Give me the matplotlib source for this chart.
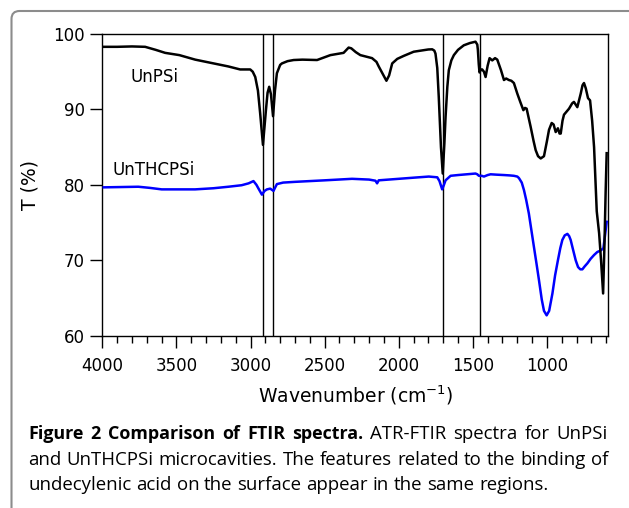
import matplotlib
matplotlib.use("Agg")
import matplotlib.pyplot as plt
from matplotlib.patches import FancyBboxPatch
from matplotlib.transforms import IdentityTransform
from matplotlib.ticker import MultipleLocator

plt.rcParams["font.family"] = ["DejaVu Sans"]
plt.rcParams["mathtext.fontset"] = "dejavusans"

# ---------------- data ----------------
unpsi_wn = [3990, 3900, 3800, 3711, 3640, 3576, 3480, 3373, 3250, 3150, 3070, 3002, 2985, 2968,
            2950, 2935, 2916, 2896, 2885, 2874, 2862, 2848, 2835, 2822, 2800, 2788, 2750, 2709,
            2650, 2551, 2461, 2400, 2372, 2338, 2320, 2290, 2259, 2220, 2180, 2150, 2135, 2110,
            2083, 2065, 2044, 2010, 1966, 1930, 1899, 1850, 1800, 1774, 1760, 1752, 1740, 1730,
            1715, 1703, 1692, 1684, 1672, 1662, 1645, 1628, 1600, 1561, 1520, 1482, 1470, 1466,
            1460, 1455, 1445, 1437, 1425, 1414, 1400, 1387, 1369, 1350, 1335, 1310, 1290, 1275,
            1257, 1240, 1223, 1200, 1180, 1159, 1148, 1137, 1110, 1090, 1076, 1060, 1042, 1020,
            1000, 986, 968, 955, 941, 926, 915, 907, 895, 885, 851, 830, 818, 805, 795, 772,
            760, 750, 738, 723, 709, 695, 682, 664, 648, 635, 621, 612, 604, 597]
unpsi_t = [98.3, 98.3, 98.35, 98.3, 97.9, 97.5, 97.2, 96.6, 96.1, 95.7, 95.3, 95.3, 95.0, 94.3,
           92.5, 89.5, 85.3, 89.9, 92.2, 93.0, 92.0, 89.1, 92.5, 94.8, 95.9, 96.1, 96.4, 96.55,
           96.6, 96.55, 97.2, 97.4, 97.5, 98.2, 98.1, 97.6, 97.2, 97.0, 96.8, 96.3, 95.7, 94.8,
           93.8, 94.5, 96.1, 96.7, 97.1, 97.4, 97.65, 97.8, 97.95, 97.97, 97.8, 97.4, 95.5, 91.7,
           85.0, 81.5, 85.5, 89.0, 93.0, 95.2, 96.5, 97.2, 97.9, 98.5, 98.8, 98.98, 98.6, 97.9,
           96.0, 94.9, 95.3, 95.3, 95.0, 94.3, 95.8, 96.8, 96.5, 96.8, 96.6, 95.2, 93.9, 94.1,
           93.9, 93.8, 93.5, 92.1, 91.0, 89.9, 90.2, 90.1, 87.7, 85.8, 84.6, 83.8, 83.5, 83.8,
           85.8, 87.3, 88.2, 88.0, 87.0, 87.5, 86.8, 86.8, 88.5, 89.3, 90.1, 90.8, 91.0, 90.6,
           90.3, 92.1, 93.2, 93.5, 92.8, 91.5, 91.2, 88.5, 85.0, 76.5, 73.6, 70.0, 65.6, 72.0,
           79.0, 84.2]

unthcpsi_wn = [3990, 3900, 3757, 3680, 3599, 3500, 3374, 3250, 3149, 3060, 3013, 2980, 2960, 2946,
               2923, 2905, 2889, 2867, 2845, 2835, 2822, 2780, 2698, 2500, 2315, 2200, 2157, 2146,
               2135, 2000, 1900, 1797, 1740, 1725, 1707, 1695, 1684, 1650, 1600, 1482, 1470, 1459,
               1440, 1425, 1400, 1380, 1340, 1290, 1250, 1223, 1200, 1189, 1170, 1155, 1140, 1122,
               1105, 1088, 1070, 1054, 1035, 1020, 1002, 985, 963, 945, 926, 910, 896, 880, 862,
               850, 840, 825, 806, 790, 775, 761, 745, 727, 705, 682, 660, 637, 619, 610, 597]
unthcpsi_t = [79.67, 79.7, 79.75, 79.6, 79.4, 79.4, 79.4, 79.55, 79.75, 79.95, 80.2, 80.5, 80.0, 79.5,
              78.7, 79.2, 79.4, 79.5, 79.2, 79.6, 80.1, 80.3, 80.4, 80.6, 80.8, 80.7, 80.55, 80.2,
              80.6, 80.8, 80.95, 81.1, 81.0, 80.5, 79.4, 80.0, 80.6, 81.2, 81.3, 81.5, 81.4, 81.2,
              81.2, 81.1, 81.3, 81.4, 81.35, 81.3, 81.25, 81.2, 81.1, 80.9, 80.3, 79.3, 78.0, 76.2,
              74.0, 71.8, 69.5, 67.4, 64.8, 63.3, 62.7, 63.3, 65.6, 68.0, 70.0, 71.6, 72.7, 73.3, 73.5,
              73.2, 72.7, 71.5, 70.0, 69.1, 68.8, 68.8, 69.2, 69.6, 70.2, 70.7, 71.1, 71.3, 71.6, 73.0, 75.1]

marker_lines = [2915, 2848, 1700, 1452]

series_names = ["UnPSi", "UnTHCPSi"]
x_ticks = [4000, 3500, 3000, 2500, 2000, 1500, 1000]
y_ticks = [60, 70, 80, 90, 100]

caption_bold = "Figure 2 Comparison of FTIR spectra."
caption_rest1 = "ATR-FTIR spectra for UnPSi"
caption_line2 = "and UnTHCPSi microcavities. The features related to the binding of"
caption_line3 = "undecylenic acid on the surface appear in the same regions."

# ---------------- figure ----------------
W, H = 629, 508
fig = plt.figure(figsize=(W / 100, H / 100), dpi=100)
fig.patch.set_facecolor("white")

# rounded frame (pixel coordinates)
frame = FancyBboxPatch((11.5, -30), 660, 497 + 30,
                       boxstyle="round,pad=0,rounding_size=8",
                       transform=IdentityTransform(), facecolor="none",
                       edgecolor="#8c8c8c", linewidth=1.5, zorder=0)
fig.patches.append(frame)

ax = fig.add_axes([102.3 / W, 172.3 / H, 506.0 / W, 301.7 / H])
ax.plot(unthcpsi_wn, unthcpsi_t, color="#0000ff", lw=1.8, zorder=3)
ax.plot(unpsi_wn, unpsi_t, color="black", lw=1.8, zorder=3)
for xv in marker_lines:
    ax.axvline(xv, color="black", lw=1.0, zorder=2)

ax.set_xlim(4000, 586)
ax.set_ylim(60, 100)
ax.set_xticks(x_ticks)
ax.xaxis.set_minor_locator(MultipleLocator(100))
ax.set_yticks(y_ticks)

for s in ax.spines.values():
    s.set_linewidth(1.0)
ax.tick_params(axis="both", which="major", direction="out", length=8.5, width=1.0,
               labelsize=12, top=False, right=False)
ax.tick_params(axis="x", which="major", pad=7)
ax.tick_params(axis="y", which="major", pad=4)
ax.tick_params(axis="x", which="minor", direction="out", length=4.8, width=1.0, top=False)

ax.set_xlabel(r"Wavenumber (cm$^{\mathregular{-1}}$)", fontsize=13.5, labelpad=6)
ax.set_ylabel("T (%)", fontsize=13.5, labelpad=10)

ax.text(3813, 93.67, series_names[0], fontsize=12, va="baseline", ha="left")
ax.text(3934, 81.3, series_names[1], fontsize=12, va="baseline", ha="left")

# ---------------- caption (justified) ----------------
cap_font = ["Open Sans", "DejaVu Sans"]
cap_size = 13.4
bold_size = 12.9
x0, x1 = 28.3, 608.0
fig.canvas.draw()
r = fig.canvas.get_renderer()


def word_width(word, size, weight):
    t = fig.text(0, 0, word, fontsize=size, family=cap_font, fontweight=weight)
    w = t.get_window_extent(r).width
    t.remove()
    return w


def place_line(words, y_px, justify=True):
    # words: list of (text, size, weight)
    widths = [word_width(w, s, wt) for (w, s, wt) in words]
    if justify and len(words) > 1:
        gap = (x1 - x0 - sum(widths)) / (len(words) - 1)
    else:
        gap = word_width("a b", cap_size, "normal") - word_width("ab", cap_size, "normal")
    x = x0
    for (w, s, wt), wd in zip(words, widths):
        fig.text(x / W, 1 - y_px / H, w, fontsize=s, family=cap_font, fontweight=wt,
                 va="baseline", ha="left")
        x += wd + gap


line1 = [(w, bold_size, "bold") for w in caption_bold.split()] + \
        [(w, cap_size, "normal") for w in caption_rest1.split()]
line2 = [(w, cap_size, "normal") for w in caption_line2.split()]
line3 = [(w, cap_size, "normal") for w in caption_line3.split()]
place_line(line1, 439.3)
place_line(line2, 464.8)
place_line(line3, 490.3, justify=False)

fig.savefig("out.png", dpi=100)
